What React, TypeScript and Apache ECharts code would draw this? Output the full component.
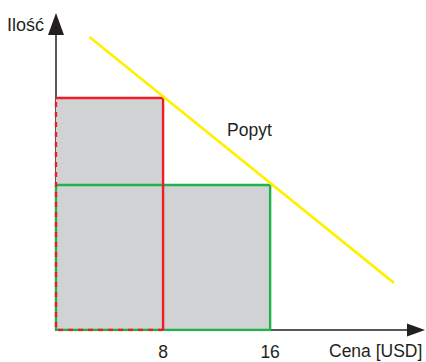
import React, { useEffect, useRef } from "react";
import * as echarts from "echarts";

// Data (price on x, quantity on y)
const redRect = { price: 8, quantity: 16 };
const greenRect = { price: 16, quantity: 10 };
const demandLine: [number, number][] = [
  [2.5, 20.2],
  [25.25, 3.25],
];
const xTickLabels = [8, 16];
const xMax = 26.9;
const yMax = 21.1;

const FONT = "'Liberation Sans', Arial, Helvetica, sans-serif";
const TEXT = "#231f20";
const RED = "#ee1d25";
const GREEN = "#21b24b";
const YELLOW = "#fff000";
const GRAY = "#d1d2d4";

export default function App() {
  const ref = useRef<HTMLDivElement>(null);
  useEffect(() => {
    if (!ref.current) return;
    const chart = echarts.init(ref.current, null, { renderer: "svg" });
    const fillShape: [number, number][] = [
      [0, redRect.quantity],
      [redRect.price, redRect.quantity],
      [redRect.price, greenRect.quantity],
      [greenRect.price, greenRect.quantity],
      [greenRect.price, 0],
    ];
    chart.setOption({
      animation: false,
      grid: { left: 56, top: 24, right: 10, bottom: 32 },
      xAxis: {
        type: "value",
        min: 0,
        max: xMax,
        interval: 8,
        splitLine: { show: false },
        axisTick: { show: false },
        axisLine: {
          show: true,
          symbol: ["none", "triangle"],
          symbolSize: [13, 18],
          lineStyle: { color: TEXT, width: 1.5 },
        },
        axisLabel: {
          margin: 13,
          fontSize: 17.5,
          fontFamily: FONT,
          color: TEXT,
          formatter: (v: number) => (xTickLabels.includes(v) ? String(v) : ""),
        },
      },
      yAxis: {
        type: "value",
        min: 0,
        max: yMax,
        splitLine: { show: false },
        axisTick: { show: false },
        axisLabel: { show: false },
        axisLine: {
          show: true,
          symbol: ["none", "triangle"],
          symbolSize: [16, 22],
          lineStyle: { color: TEXT, width: 1.5 },
        },
      },
      series: [
        {
          type: "line",
          data: fillShape,
          symbol: "none",
          lineStyle: { width: 0 },
          areaStyle: { color: GRAY, opacity: 1 },
          z: 1,
        },
        {
          type: "line",
          data: [
            [0, 0],
            [0, greenRect.quantity],
            [greenRect.price, greenRect.quantity],
            [greenRect.price, 0],
            [0, 0],
          ],
          symbol: "none",
          lineStyle: { color: GREEN, width: 2.4 },
          z: 2,
        },
        {
          type: "line",
          data: [
            [0, redRect.quantity],
            [redRect.price, redRect.quantity],
            [redRect.price, 0],
          ],
          symbol: "none",
          lineStyle: { color: RED, width: 2.4 },
          z: 3,
        },
        {
          type: "line",
          data: [
            [redRect.price, 0],
            [0, 0],
            [0, redRect.quantity],
          ],
          symbol: "none",
          lineStyle: { color: RED, width: 2.4, type: [5, 5] },
          z: 3,
        },
        {
          type: "line",
          data: demandLine,
          symbol: "none",
          lineStyle: { color: YELLOW, width: 2.6 },
          z: 4,
        },
      ],
      graphic: [
        {
          type: "text",
          left: 7,
          top: 16,
          style: { text: "Ilość", font: `18px ${FONT}`, fill: TEXT },
        },
        {
          type: "text",
          left: 329,
          top: 342,
          style: { text: "Cena [USD]", font: `17.5px ${FONT}`, fill: TEXT },
        },
        {
          type: "text",
          left: 227,
          top: 121,
          style: { text: "Popyt", font: `17.5px ${FONT}`, fill: TEXT },
        },
      ],
    });
    return () => chart.dispose();
  }, []);
  return (
    <div
      ref={ref}
      style={{ position: "fixed", left: 0, top: 0, width: 426, height: 362, background: "#fff" }}
    />
  );
}
